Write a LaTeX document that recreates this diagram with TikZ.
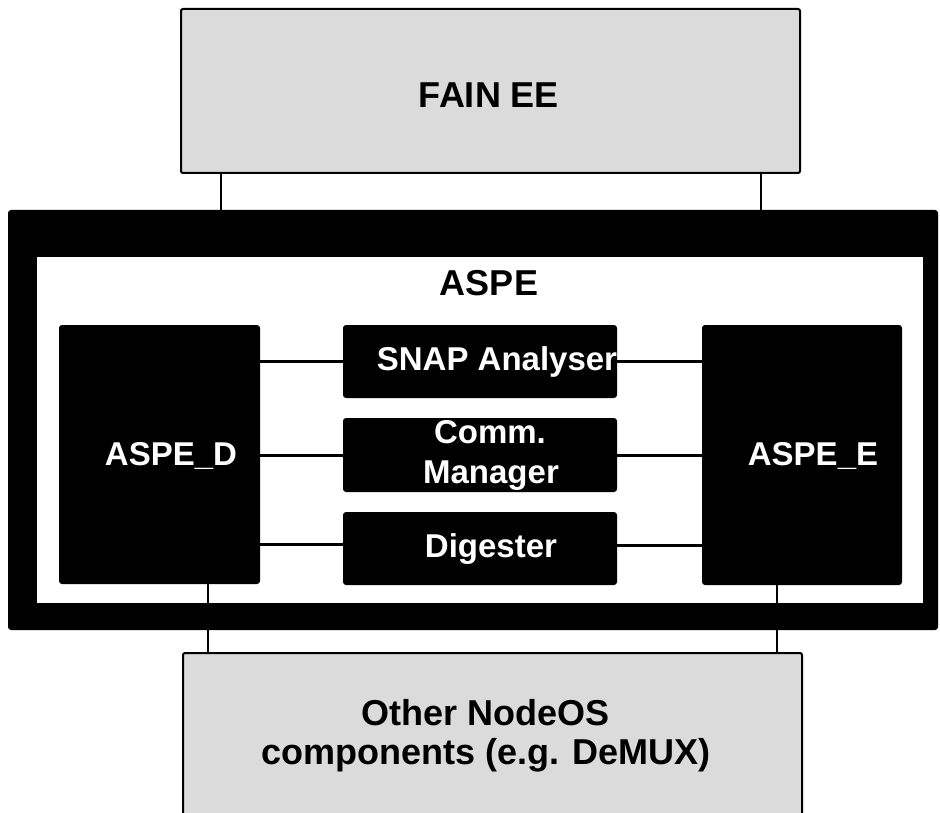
\documentclass[tikz,border=0pt]{standalone}
\usepackage{fontspec}
\setmainfont{Liberation Sans}
\begin{document}
\begin{tikzpicture}[x=1pt,y=-1pt,
  graybox/.style={draw=black, line width=2pt, fill=black!14, rounded corners=2pt, inner sep=0pt, outer sep=0pt, anchor=north west},
  blackbox/.style={fill=black, rounded corners=3pt, inner sep=0pt, outer sep=0pt, anchor=north west},
  whitebox/.style={fill=white, inner sep=0pt, outer sep=0pt, anchor=north west},
  bigtext/.style={font=\fontsize{36}{40}\selectfont\bfseries, anchor=base, inner sep=0pt},
  intext/.style={font=\fontsize{33}{37}\selectfont\bfseries, text=white, anchor=base, inner sep=0pt},
  link/.style={line width=3pt},
  conn/.style={line width=2pt}]
\useasboundingbox (0,0) rectangle (940,813);
\clip (0,0) rectangle (940,813);
% top box
\node[graybox, minimum width=619pt, minimum height=164pt] (fain) at (181,9) {};
\node[bigtext] (faint) at (489,108) {FAIN EE};
% ASPE frame
\node[blackbox, minimum width=930pt, minimum height=420pt] (frame) at (8,210) {};
\node[whitebox, minimum width=886pt, minimum height=346pt] (inner) at (37,257) {};
\node[bigtext] (aspe) at (489,295) {ASPE};
% components
\node[blackbox, minimum width=201pt, minimum height=259pt] (aspeD) at (59,325) {};
\node[blackbox, minimum width=200pt, minimum height=260pt] (aspeE) at (702,325) {};
\node[blackbox, minimum width=274pt, minimum height=73pt] (snap) at (343,325) {};
\node[blackbox, minimum width=274pt, minimum height=74pt] (comm) at (343,418) {};
\node[blackbox, minimum width=274pt, minimum height=73pt] (dig) at (343,512) {};
\node[intext] (tD) at (171,465) {ASPE\_D};
\node[intext] (tE) at (813,465) {ASPE\_E};
\node[intext] (tS) at (497,370) {SNAP Analyser};
\node[intext] (tC1) at (490,443) {Comm.};
\node[intext] (tC2) at (491,483) {Manager};
\node[intext] (tG) at (491,557) {Digester};
% bottom box
\node[graybox, minimum width=619pt, minimum height=190pt] (other) at (183,653) {};
\node[bigtext] (o1) at (486,725) {Other NodeOS};
\node[bigtext] (o2) at (486,764) {components (e.g. DeMUX)};
% links
\draw[link] (aspeD.east |- snap.west) -- (snap.west);
\draw[link] (aspeD.east |- comm.west) -- (comm.west);
\draw[link] ([yshift=4pt]aspeD.east |- dig.west) -- ([yshift=4pt]dig.west);
\draw[link] (snap.east) -- (snap.east -| aspeE.west);
\draw[link] (comm.east) -- (comm.east -| aspeE.west);
\draw[link] ([yshift=3pt]dig.east) -- ([yshift=3pt]dig.east -| aspeE.west);
% connectors
\draw[conn] ([xshift=40pt]fain.south west) -- ([xshift=40pt]fain.south west |- frame.north);
\draw[conn] ([xshift=-39pt]fain.south east) -- ([xshift=-39pt]fain.south east |- frame.north);
\draw[conn] ([xshift=149pt]aspeD.south west) -- ([xshift=149pt]aspeD.south west |- other.north);
\draw[conn] ([xshift=75pt]aspeE.south west) -- ([xshift=75pt]aspeE.south west |- other.north);
\end{tikzpicture}
\end{document}
